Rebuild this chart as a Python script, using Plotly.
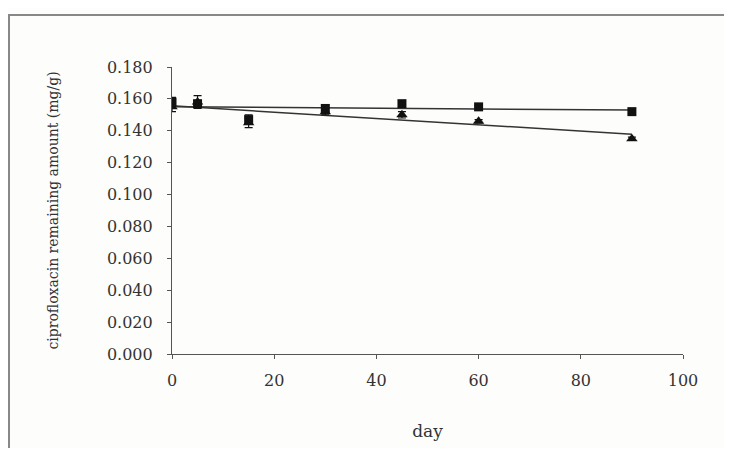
import numpy as np
import plotly.graph_objects as go

days = [0, 5, 15, 30, 45, 60, 90]
square_vals = [0.158, 0.157, 0.147, 0.154, 0.157, 0.155, 0.152]
square_err = [0.003, 0.002, 0.003, 0.002, 0.002, 0.001, 0.001]
tri_vals = [0.155, 0.158, 0.145, 0.152, 0.150, 0.146, 0.135]
tri_err = [0.003, 0.004, 0.003, 0.002, 0.002, 0.001, 0.001]
x_ticks = [0, 20, 40, 60, 80, 100]
y_ticks = [0.0, 0.02, 0.04, 0.06, 0.08, 0.10, 0.12, 0.14, 0.16, 0.18]

fig = go.Figure()

x_arr = np.array(days, dtype=float)
for vals in (square_vals, tri_vals):
    m, b = np.polyfit(x_arr, np.array(vals), 1)
    xs = [min(days), max(days)]
    fig.add_trace(go.Scatter(x=xs, y=[m * v + b for v in xs], mode="lines",
                             line=dict(color="#333333", width=1.5), showlegend=False,
                             hoverinfo="skip"))

fig.add_trace(go.Scatter(x=days, y=tri_vals, mode="markers",
                         marker=dict(symbol="triangle-up", size=10, color="#111111"),
                         error_y=dict(type="data", array=tri_err, color="#111111", thickness=1.2, width=4),
                         showlegend=False))
fig.add_trace(go.Scatter(x=days, y=square_vals, mode="markers",
                         marker=dict(symbol="square", size=9, color="#111111"),
                         error_y=dict(type="data", array=square_err, color="#111111", thickness=1.2, width=4),
                         showlegend=False))

font = dict(family="DejaVu Serif, Liberation Serif, serif", color="#333333")

# page body has an 8px margin, so the figure is drawn at (8, 8)
W, H = 716, 440
L, R, T, B = 164, 41, 59, 94
pw, ph = W - L - R, H - T - B

fig.update_layout(
    width=W, height=H,
    margin=dict(l=L, r=R, t=T, b=B),
    paper_bgcolor="#fdfdfb", plot_bgcolor="rgba(0,0,0,0)",
    font=dict(size=15, **font),
    xaxis=dict(range=[0, 100], tickvals=x_ticks, ticktext=[str(t) for t in x_ticks],
               showgrid=False, zeroline=False, showline=True, linecolor="#555555", linewidth=1.2,
               ticks="outside", ticklen=4, tickcolor="#555555", ticklabelstandoff=8,
               tickfont=dict(size=16, **font),
               title=dict(text="day", font=dict(size=17, **font), standoff=35)),
    yaxis=dict(range=[0, 0.18], tickvals=y_ticks, ticktext=[f"{t:.3f}" for t in y_ticks],
               showgrid=False, zeroline=False, showline=True, linecolor="#555555", linewidth=1.2,
               ticks="outside", ticklen=4, tickcolor="#555555", ticklabelstandoff=11,
               tickfont=dict(size=16, **font),
               title=dict(text="ciprofloxacin remaining amount (mg/g)", font=dict(size=14, **font), standoff=44)),
    shapes=[dict(type="rect", xref="paper", yref="paper",
                 x0=(1 - L) / pw, x1=1.6, y0=-0.6, y1=(ph + T - 7) / ph,
                 line=dict(color="#888888", width=2), fillcolor="rgba(0,0,0,0)")],
)

fig.write_html("out.html")
